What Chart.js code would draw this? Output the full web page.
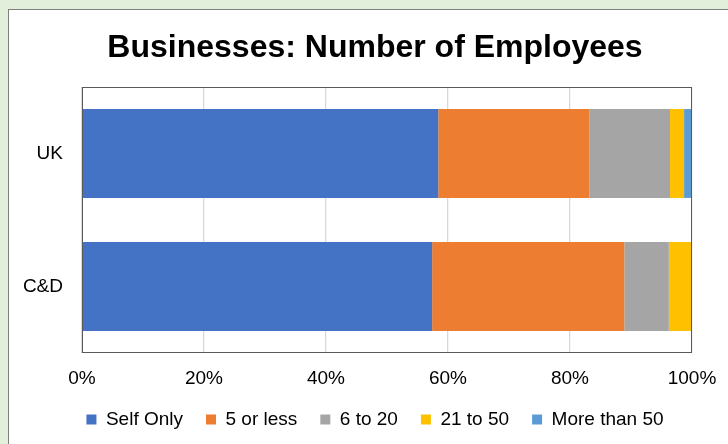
<!DOCTYPE html>
<html>
<head>
<meta charset="utf-8">
<script src="https://cdn.jsdelivr.net/npm/chart.js@4"></script>
<style>
  html, body { margin: 0; padding: 0; }
  body { width: 728px; height: 444px; overflow: hidden; background: #e2efda; position: relative; }
  #panel { position: absolute; left: 8px; top: 9px; width: 800px; height: 500px; background: #fff; border: 1px solid #7f7f7f; }
  #wrap { position: absolute; left: 0; top: 0; width: 750px; height: 460px; }
</style>
</head>
<body>
<div id="panel"></div>
<div id="wrap"><canvas id="chart"></canvas></div>
<script>
// categories and series (percent of businesses)
const regions = ['UK', 'C&D']
const seriesNames = ['Self Only', '5 or less', '6 to 20', '21 to 50', 'More than 50']
const selfOnly = [58.4, 57.4]
const fiveOrLess = [24.8, 31.5]
const sixTo20 = [13.2, 7.3]
const twentyOneTo50 = [2.3, 3.8]
const moreThan50 = [1.3, 0]
const tickValues = [0, 20, 40, 60, 80, 100]

const colors = ['#4472c4', '#ed7d31', '#a5a5a5', '#ffc000', '#5b9bd5']
const values = [selfOnly, fiveOrLess, sixTo20, twentyOneTo50, moreThan50]

Chart.defaults.font.family = 'Arial, "Liberation Sans", sans-serif'
Chart.defaults.color = '#000'

//box around the plot area
const plotBorder = {
    id: 'plotBorder',
    afterDatasetsDraw(chart) {
        const a = chart.chartArea
        const ctx = chart.ctx
        ctx.save()
        ctx.strokeStyle = '#595959'
        ctx.lineWidth = 1
        ctx.strokeRect(a.left + 0.5, a.top + 0.5, a.right - a.left - 1, a.bottom - a.top - 1)
        ctx.restore()
    }
}

new Chart(document.getElementById('chart').getContext('2d'), {
    type: 'bar',
    data: {
        labels: regions,
        datasets: seriesNames.map((name, i) => ({
            label: name,
            data: values[i],
            backgroundColor: colors[i],
            borderWidth: 0,
            barPercentage: 0.668,
            categoryPercentage: 1
        }))
    },
    options: {
        indexAxis: 'y',
        responsive: true,
        maintainAspectRatio: false,
        animation: false,
        layout: { padding: { left: 0, right: 0, top: 0, bottom: 21 } },
        scales: {
            x: {
                stacked: true,
                min: 0,
                max: 100,
                afterBuildTicks: s => { s.ticks = tickValues.map(v => ({ value: v })) },
                afterFit: s => { s.height = 34 },
                grid: { color: '#d9d9d9', lineWidth: 1.3, drawTicks: false },
                border: { display: false },
                ticks: { padding: 14.6, font: { size: 19 }, callback: v => v + '%' }
            },
            y: {
                stacked: true,
                afterFit: s => { s.width = 82 },
                grid: { display: false, drawTicks: false },
                border: { display: false },
                ticks: { padding: 19, font: { size: 19 } }
            },
            //empty right axis just to keep room on the right
            yRight: {
                type: 'category',
                position: 'right',
                afterFit: s => { s.width = 58 },
                grid: { display: false, drawTicks: false },
                border: { display: false },
                ticks: { display: false }
            }
        },
        plugins: {
            title: {
                display: true,
                text: 'Businesses: Number of Employees',
                font: { size: 32, weight: 'bold' },
                color: '#000',
                padding: { top: 28.6, bottom: 20 }
            },
            legend: {
                position: 'bottom',
                labels: {
                    boxWidth: 10,
                    boxHeight: 10,
                    padding: 23,
                    font: { size: 19 },
                    color: '#000'
                }
            },
            tooltip: { enabled: false }
        }
    },
    plugins: [plotBorder]
})
</script>
</body>
</html>
